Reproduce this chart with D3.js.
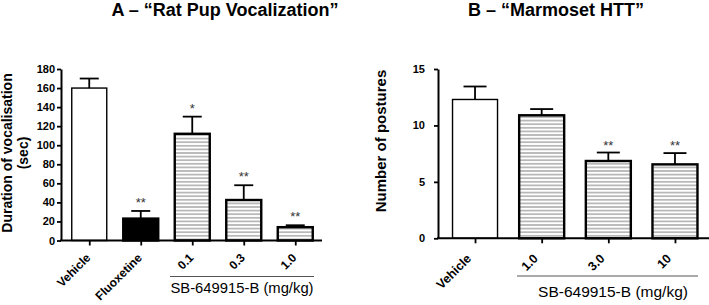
<!DOCTYPE html>
<html><head><meta charset="utf-8">
<script src="https://d3js.org/d3.v7.min.js"></script>
<style>body{margin:0;background:#fff}svg{display:block}text{font-family:"Liberation Sans",Arial,Helvetica,sans-serif}</style>
</head><body><svg id="c" width="709" height="305"></svg>
<script>
// Panel A data
const catsA = ["Vehicle","Fluoxetine","0.1","0.3","1.0"];
const meansA = [160, 23, 112, 42.5, 14];
const errA = [170, 31, 130, 58, 16];
const fillsA = ["white","black","hatch","hatch","hatch"];
const starsA = ["", "**", "*", "**", "**"];
const ticksA = [0,20,40,60,80,100,120,140,160,180];
// Panel B data
const catsB = ["Vehicle","1.0","3.0","10"];
const meansB = [12.3, 10.9, 6.85, 6.55];
const errB = [13.45, 11.45, 7.6, 7.55];
const fillsB = ["white","hatch","hatch","hatch"];
const starsB = ["", "", "**", "**"];
const ticksB = [0,5,10,15];
const groupLabel = "SB-649915-B (mg/kg)";

const svg = d3.select("#c");
const defs = svg.append("defs");
const pat = defs.append("pattern").attr("id","hatch").attr("patternUnits","userSpaceOnUse")
  .attr("width",8).attr("height",3.6);
pat.append("rect").attr("width",8).attr("height",3.6).attr("fill","#fff");
pat.append("line").attr("x1",0).attr("x2",8).attr("y1",1.8).attr("y2",1.8)
  .attr("stroke","#8a8a8a").attr("stroke-width",1.1);

function panel(o){
  const g = svg.append("g");
  const x = d3.scalePoint().domain(o.cats).range(o.xr).padding(0.5);
  const y = d3.scaleLinear().domain(o.yd).range(o.yr);
  const bw = o.bw;
  // bars
  o.cats.forEach((c,i)=>{
    const cx = x(c);
    const f = o.fills[i];
    g.append("rect").attr("x",cx-bw/2).attr("y",y(o.means[i])).attr("width",bw)
      .attr("height",y(0)-y(o.means[i]))
      .attr("fill", f==="hatch"?"url(#hatch)":f)
      .attr("stroke","#000").attr("stroke-width", f==="white"?1.4:2.4);
    // error bar
    g.append("line").attr("x1",cx).attr("x2",cx).attr("y1",y(o.means[i])).attr("y2",y(o.err[i]))
      .attr("stroke","#000").attr("stroke-width",1.8);
    g.append("line").attr("x1",cx-o.cap/2).attr("x2",cx+o.cap/2).attr("y1",y(o.err[i])).attr("y2",y(o.err[i]))
      .attr("stroke","#000").attr("stroke-width",1.8);
    if(o.stars[i]) g.append("text").attr("x",cx).attr("y",y(o.err[i])+o.starDy)
      .attr("text-anchor","middle").attr("font-size",13).attr("fill","#333").text(o.stars[i]);
  });
  // y axis
  const ya = g.append("g").attr("transform",`translate(${o.axX},0)`)
    .call(d3.axisLeft(y).tickValues(o.ticks).tickSize(4).tickSizeOuter(0).tickPadding(o.tp));
  ya.select(".domain").attr("stroke-width",2);
  ya.selectAll(".tick line").attr("stroke-width",1.8);
  ya.selectAll("text").attr("font-size",o.tfs).attr("font-weight","bold").attr("fill","#000");
  // x axis
  const xa = g.append("g").attr("transform",`translate(0,${y(0)})`)
    .call(d3.axisBottom(x).tickSize(5).tickSizeOuter(0).tickFormat(""));
  xa.select(".domain").attr("d",`M${o.axX-1},0H${o.axEnd}`).attr("stroke-width",2);
  xa.selectAll(".tick line").attr("stroke-width",1.8);
  // category labels
  o.cats.forEach((c,i)=>{
    g.append("text").attr("transform",`translate(${x(c)+o.ldx},${y(0)+o.ldy}) rotate(-45)`)
      .attr("text-anchor","end").attr("font-size",o.lfs).attr("font-weight","bold").text(c);
  });
  // group bracket
  g.append("line").attr("x1",o.br[0]).attr("x2",o.br[1]).attr("y1",o.brY).attr("y2",o.brY)
    .attr("stroke","#555").attr("stroke-width",1);
  g.append("text").attr("x",o.gx).attr("y",o.gy).attr("text-anchor","middle")
    .attr("font-size",o.gfs).text(groupLabel);
  // title
  g.append("text").attr("x",o.tx).attr("y",16).attr("text-anchor","middle")
    .attr("font-size",18).attr("font-weight","bold").text(o.title);
  // y title
  o.ytitle.forEach((t,k)=>{
    g.append("text").attr("transform",`translate(${o.ytx[k]},${o.yty}) rotate(-90)`)
      .attr("text-anchor","middle").attr("font-size",o.ytfs).attr("font-weight","bold").text(t);
  });
}

panel({cats:catsA, means:meansA, err:errA, fills:fillsA, stars:starsA, ticks:ticksA,
  xr:[63.5,321], yd:[0,180], yr:[240.5,69], bw:35, cap:19, starDy:-4, axX:61, axEnd:322,
  tp:2, tfs:11, ldx:2, ldy:18, lfs:12, br:[170,314], brY:276.5, gx:242, gy:293, gfs:14.8,
  tx:225, title:"A – \u201CRat Pup Vocalization\u201D", ytitle:["Duration of vocalisation","(sec)"],
  ytx:[12,28], yty:153, ytfs:14});
panel({cats:catsB, means:meansB, err:errB, fills:fillsB, stars:starsB, ticks:ticksB,
  xr:[441.7,708.3], yd:[0,15], yr:[238.3,69], bw:45, cap:23, starDy:-3, axX:438, axEnd:709,
  tp:9, tfs:11, ldx:-3, ldy:21, lfs:12.5, br:[517,698], brY:276, gx:613, gy:297, gfs:15.5,
  tx:556, title:"B – \u201CMarmoset HTT\u201D", ytitle:["Number of postures"],
  ytx:[386], yty:141, ytfs:15});
</script></body></html>
